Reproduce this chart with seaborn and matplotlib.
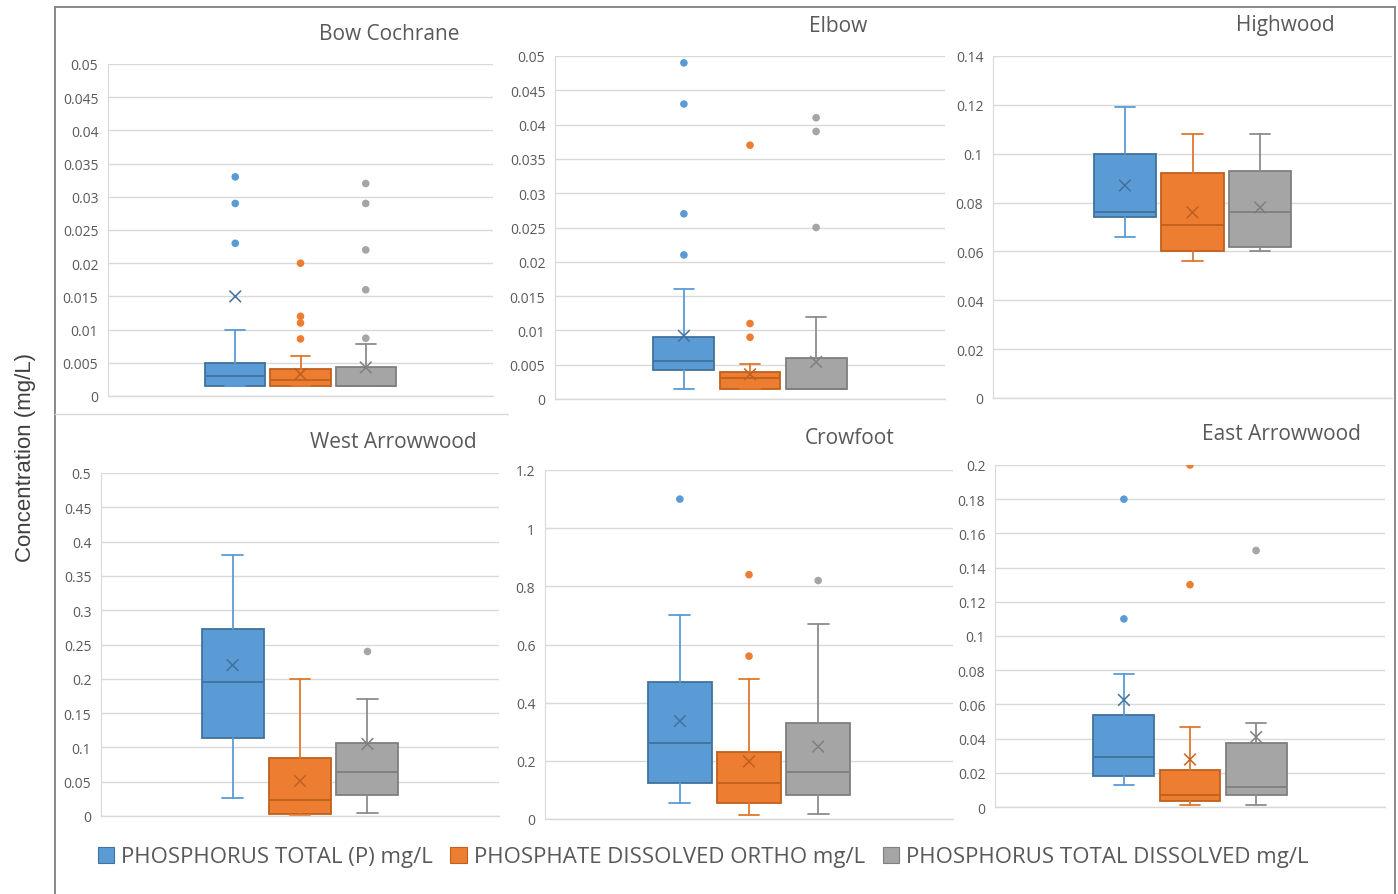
import numpy as np
import pandas as pd
import matplotlib
matplotlib.use("Agg")
import matplotlib.pyplot as plt
from matplotlib.patches import Patch
from matplotlib.lines import Line2D
import seaborn as sns

# ---- data -------------------------------------------------------------
sites = ["Bow Cochrane", "Elbow", "Highwood",
         "West Arrowwood", "Crowfoot", "East Arrowwood"]
parameters = ["PHOSPHORUS TOTAL (P) mg/L",
              "PHOSPHATE DISSOLVED ORTHO mg/L",
              "PHOSPHORUS TOTAL DISSOLVED mg/L"]

whisker_low = [
    [0.0015, 0.0015, 0.0015],
    [0.0015, 0.0015, 0.0015],
    [0.066, 0.056, 0.060],
    [0.026, 0.002, 0.004],
    [0.055, 0.013, 0.017],
    [0.013, 0.0014, 0.0014],
]
q1 = [
    [0.0015, 0.0015, 0.0015],
    [0.0042, 0.0015, 0.0015],
    [0.074, 0.060, 0.062],
    [0.114, 0.0035, 0.031],
    [0.124, 0.054, 0.081],
    [0.018, 0.0037, 0.0068],
]
median = [
    [0.003, 0.0024, 0.0015],
    [0.0056, 0.0031, 0.0015],
    [0.076, 0.071, 0.076],
    [0.195, 0.023, 0.064],
    [0.26, 0.124, 0.162],
    [0.029, 0.0068, 0.0115],
]
q3 = [
    [0.005, 0.004, 0.0043],
    [0.009, 0.004, 0.006],
    [0.100, 0.092, 0.093],
    [0.272, 0.085, 0.106],
    [0.472, 0.23, 0.329],
    [0.054, 0.0216, 0.0377],
]
whisker_high = [
    [0.010, 0.006, 0.0078],
    [0.016, 0.0051, 0.012],
    [0.119, 0.108, 0.108],
    [0.38, 0.20, 0.17],
    [0.70, 0.48, 0.67],
    [0.078, 0.047, 0.049],
]
means = [
    [0.015, 0.0033, 0.0043],
    [0.0092, 0.0036, 0.0054],
    [0.087, 0.076, 0.078],
    [0.22, 0.051, 0.105],
    [0.337, 0.198, 0.249],
    [0.0626, 0.0278, 0.0409],
]
outliers = [
    [[0.033, 0.029, 0.023], [0.020, 0.012, 0.011, 0.0086],
     [0.032, 0.029, 0.022, 0.016, 0.0087]],
    [[0.049, 0.043, 0.027, 0.021], [0.037, 0.011, 0.009],
     [0.041, 0.039, 0.025]],
    [[], [], []],
    [[], [], [0.24]],
    [[1.10], [0.84, 0.56], [0.82]],
    [[0.18, 0.11], [0.20, 0.13], [0.15]],
]
y_max = [0.05, 0.05, 0.14, 0.5, 1.2, 0.2]
y_step = [0.005, 0.005, 0.02, 0.05, 0.2, 0.02]

# ---- styling ----------------------------------------------------------
fills = ["#5B9BD5", "#ED7D31", "#A5A5A5"]
edges = ["#41719C", "#C0601F", "#7F7F7F"]
whisk = ["#5B9BD5", "#E0782E", "#8C8C8C"]
text_grey = "#595959"

sns.set_theme(style="white")
plt.rcParams["font.family"] = ["Open Sans", "DejaVu Sans"]

W, H = 1398, 895
fig = plt.figure(figsize=(W / 100, H / 100), dpi=100)
fig.patch.set_facecolor("white")

# plot areas in pixels: left, top, right, bottom
panel_px = [(108, 65, 493, 397), (555, 57, 945, 400), (993, 57, 1392, 399),
            (101, 474, 499, 817), (545, 471, 953, 820), (995, 466, 1385, 808)]
title_px = [(389, 35), (838, 26), (1285, 25),
            (393, 442), (850, 439), (1281, 434)]
positions = [-1.0, 0.0, 1.0]

for i, site in enumerate(sites):
    l, t, r, b = panel_px[i]
    ax = fig.add_axes([l / W, 1 - b / H, (r - l) / W, (b - t) / H])
    ax.set_axisbelow(True)

    for j in range(3):
        st = dict(whislo=whisker_low[i][j], q1=q1[i][j], med=median[i][j],
                  q3=q3[i][j], whishi=whisker_high[i][j], fliers=[])
        ax.bxp([st], positions=[positions[j]], widths=0.92, capwidths=0.3,
               patch_artist=True, showfliers=False, showmeans=False,
               boxprops=dict(facecolor=fills[j], edgecolor=edges[j], linewidth=1.3),
               medianprops=dict(color=edges[j], linewidth=1.3),
               whiskerprops=dict(color=whisk[j], linewidth=1.3),
               capprops=dict(color=whisk[j], linewidth=1.3),
               manage_ticks=False)

    out_df = pd.DataFrame(
        [(positions[j], v, parameters[j]) for j in range(3) for v in outliers[i][j]],
        columns=["pos", "value", "parameter"])
    if len(out_df):
        sns.scatterplot(data=out_df, x="pos", y="value", hue="parameter",
                        hue_order=parameters, palette=fills, s=30,
                        linewidth=0, legend=False, ax=ax, zorder=4)

    mean_df = pd.DataFrame({"pos": positions, "value": means[i],
                            "parameter": parameters})
    sns.scatterplot(data=mean_df, x="pos", y="value", hue="parameter",
                    hue_order=parameters, palette=edges, marker="x", s=70,
                    linewidth=1.1, legend=False, ax=ax, zorder=5)

    ticks = np.arange(0, y_max[i] + y_step[i] / 2, y_step[i])
    ax.set_ylim(0, y_max[i])
    ax.set_yticks(ticks)
    ax.set_yticklabels([f"{round(v, 4):g}" for v in ticks])
    ax.set_xlim(-2.95, 2.95)
    ax.set_xticks([])
    ax.set_xlabel("")
    ax.set_ylabel("")
    ax.grid(axis="y", color="#D9D9D9", linewidth=1.0)
    ax.tick_params(axis="y", length=0, labelsize=10, labelcolor=text_grey, pad=7)
    for side in ("top", "right"):
        ax.spines[side].set_visible(False)
    ax.spines["left"].set_color("#D9D9D9")
    ax.spines["left"].set_linewidth(0.8)
    ax.spines["bottom"].set_color("#D9D9D9")
    ax.spines["bottom"].set_linewidth(1.0)
    ax.patch.set_alpha(0)

    tx, ty = title_px[i]
    fig.text(tx / W, 1 - ty / H, site, ha="center", va="center",
             fontsize=15, color=text_grey)

# outer frame
frame = dict(color="#808080", linewidth=1.3, transform=fig.transFigure)
fig.add_artist(Line2D([55 / W, 55 / W], [0, 1 - 8 / H], **frame))
fig.add_artist(Line2D([55 / W, 1395 / W], [1 - 8 / H, 1 - 8 / H], **frame))
fig.add_artist(Line2D([1395 / W, 1395 / W], [0, 1 - 8 / H], **frame))
fig.add_artist(Line2D([55 / W, 508 / W], [1 - 415 / H, 1 - 415 / H],
                      color="#D9D9D9", linewidth=1.0, transform=fig.transFigure))

fig.text(25 / W, 1 - 458 / H, "Concentration (mg/L)", rotation=90,
         ha="center", va="center", fontsize=16, color="#404040",
         family=["Liberation Sans", "DejaVu Sans"])

handles = [Patch(facecolor=fills[j], edgecolor=edges[j], linewidth=0.8)
           for j in range(3)]
fig.legend(handles=handles, labels=parameters, loc="center",
           bbox_to_anchor=(703 / W, 1 - 858 / H), ncol=3, frameon=False,
           fontsize=16, handlelength=0.75, handleheight=0.75,
           handletextpad=0.3, columnspacing=0.8, labelcolor=text_grey)

fig.savefig("out.png", dpi=100, facecolor="white")
